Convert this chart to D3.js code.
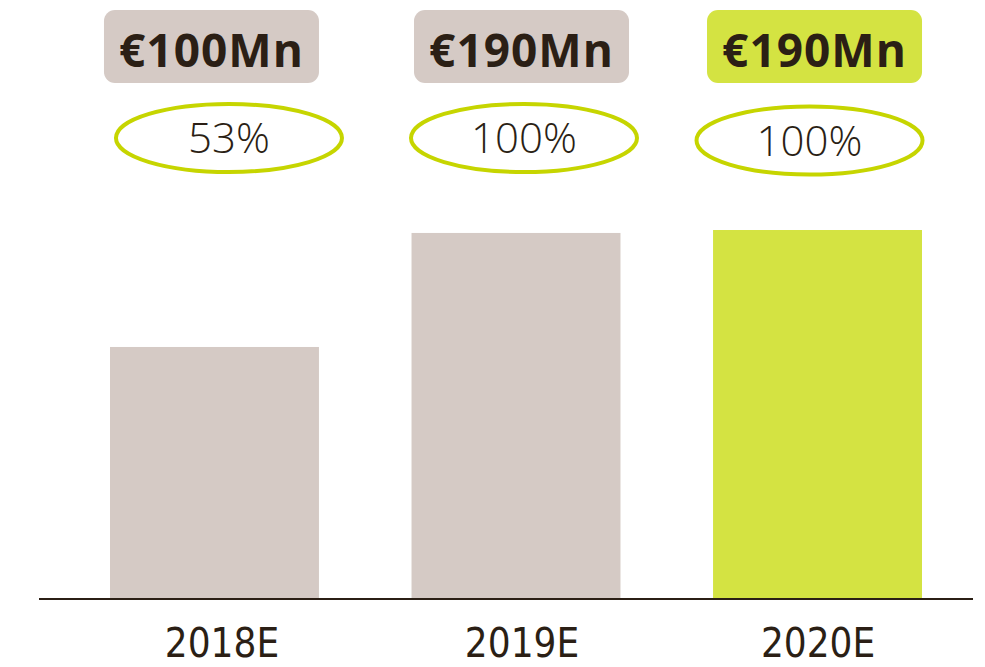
<!DOCTYPE html>
<html><head><meta charset="utf-8">
<script src="https://cdn.jsdelivr.net/npm/d3@7"></script>
<style>html,body{margin:0;padding:0;background:#fff;}</style>
</head><body>
<svg id="chart" width="985" height="667"></svg>
<script>
const categories = ["2018E", "2019E", "2020E"];
const barValues = [68.3, 99.2, 100];          // relative bar heights (index)
const amountLabels = ["€100Mn", "€190Mn", "€190Mn"];
const percentLabels = ["53%", "100%", "100%"];
const highlight = [false, false, true];

const W = 985, H = 667;
const axisY = 599;
const grey = "#d5cac5", green = "#d4e342", ring = "#c6d500", ink = "#2b1f15";
// small layout nudges (px) matching the original placement
const boxNudge = [-3, 5.5, -3];
const ringNudge = [14.5, 8, -8];
const labelNudge = [7.5, 6, 0.5];

const svg = d3.select("#chart");
const x = d3.scaleBand().domain(categories).range([110, 922]).paddingInner(0.307).paddingOuter(0);
const y = d3.scaleLinear().domain([0, 100]).range([axisY, 230]);

const g = svg.append("g");
g.selectAll("rect.bar").data(categories).join("rect")
  .attr("class", "bar")
  .attr("x", d => x(d))
  .attr("width", x.bandwidth())
  .attr("y", (d, i) => y(barValues[i]))
  .attr("height", (d, i) => axisY - y(barValues[i]))
  .attr("fill", (d, i) => highlight[i] ? green : grey);

svg.append("line").attr("x1", 39).attr("x2", 973).attr("y1", axisY).attr("y2", axisY)
  .attr("stroke", ink).attr("stroke-width", 2);

const xAxis = d3.axisBottom(x).tickSize(0).tickPadding(0);
const ax = svg.append("g").attr("transform", `translate(0,${axisY})`).call(xAxis);
ax.select(".domain").remove();
ax.selectAll(".tick text")
  .attr("y", 58).attr("dy", 0)
  .attr("dx", (d, i) => labelNudge[i])
  .attr("fill", ink)
  .style("font-family", "'DejaVu Sans Condensed', 'DejaVu Sans', sans-serif")
  .style("font-weight", 300)
  .style("font-size", "40px");

const cx = d => x(d) + x.bandwidth() / 2;
// amount boxes
const boxW = 215, boxH = 73;
svg.selectAll("rect.box").data(categories).join("rect")
  .attr("class", "box")
  .attr("x", (d, i) => cx(d) + boxNudge[i] - boxW / 2)
  .attr("y", 10).attr("width", boxW).attr("height", boxH)
  .attr("rx", 11).attr("ry", 11)
  .attr("fill", (d, i) => highlight[i] ? green : grey);
svg.selectAll("text.amt").data(categories).join("text")
  .attr("class", "amt")
  .attr("x", (d, i) => cx(d) + boxNudge[i])
  .attr("y", 67)
  .attr("text-anchor", "middle")
  .attr("fill", ink)
  .style("font-family", "'Open Sans', sans-serif")
  .style("font-weight", 700)
  .style("font-size", "46px")
  .style("letter-spacing", "1px")
  .text((d, i) => amountLabels[i]);

// percent ellipses
svg.selectAll("ellipse.ring").data(categories).join("ellipse")
  .attr("class", "ring")
  .attr("cx", (d, i) => cx(d) + ringNudge[i])
  .attr("cy", (d, i) => i === 2 ? 140.5 : 138)
  .attr("rx", 113).attr("ry", 34)
  .attr("fill", "none").attr("stroke", ring).attr("stroke-width", 4);
svg.selectAll("text.pct").data(categories).join("text")
  .attr("class", "pct")
  .attr("x", (d, i) => cx(d) + ringNudge[i])
  .attr("y", (d, i) => i === 2 ? 156 : 153)
  .attr("text-anchor", "middle")
  .attr("fill", ink)
  .style("font-family", "'Open Sans', sans-serif")
  .style("font-weight", 300)
  .style("font-size", "42px")
  .text((d, i) => percentLabels[i]);
</script>
</body></html>
